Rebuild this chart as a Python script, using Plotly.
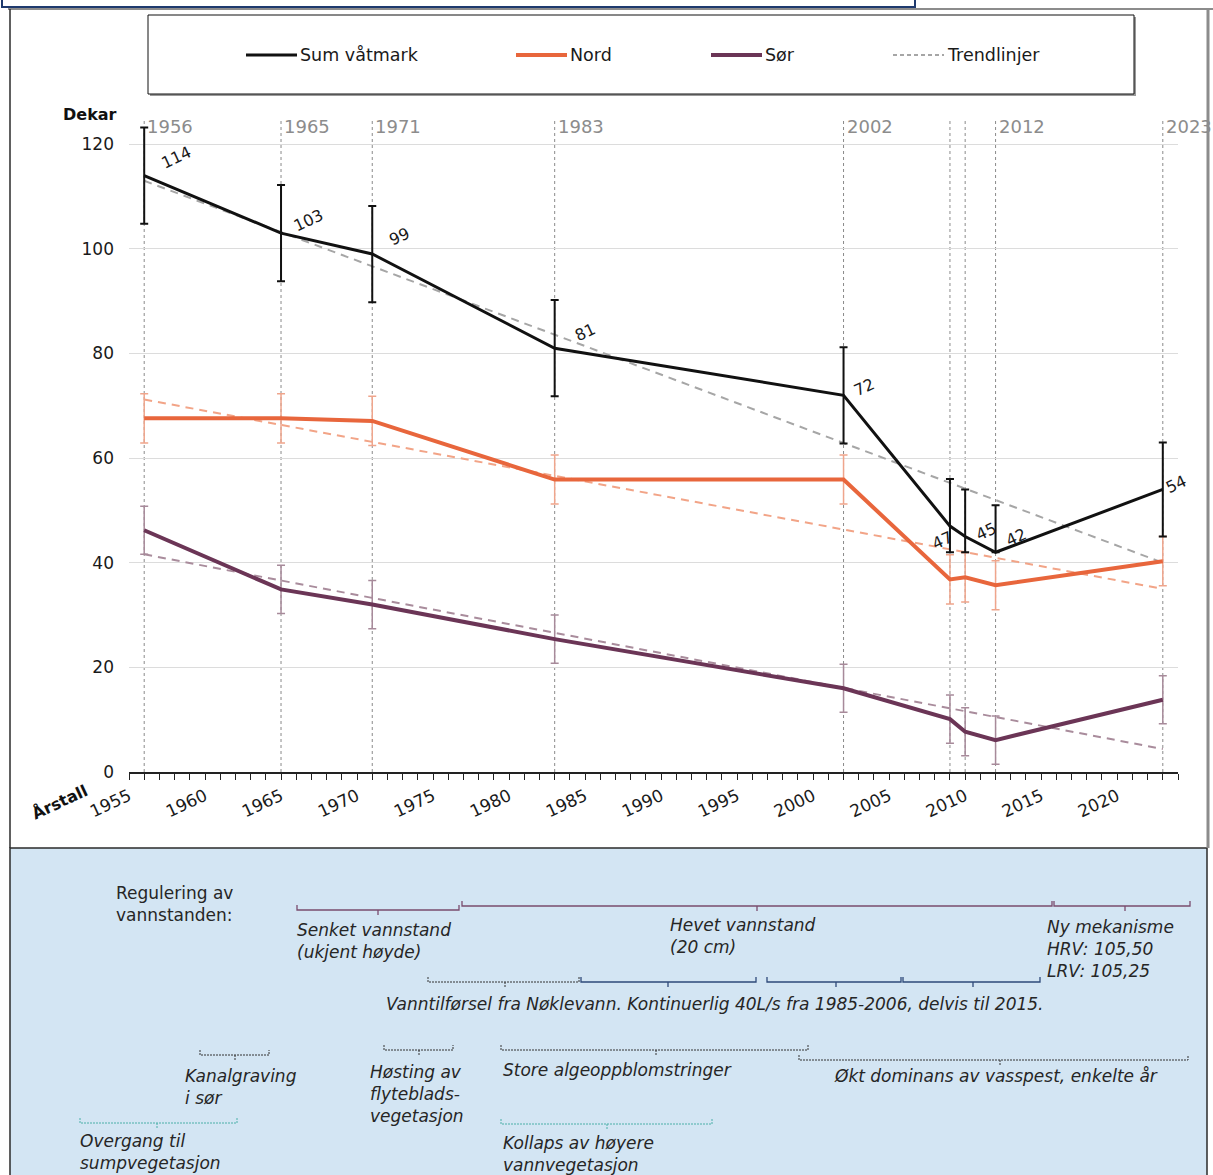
import plotly.graph_objects as go

# ---- data -------------------------------------------------------------
years = [1956, 1965, 1971, 1983, 2002, 2009, 2010, 2012, 2023]
sum_vatmark = [114, 103, 99, 81, 72, 47, 45, 42, 54]
sum_err_plus = [9.2, 9.2, 9.2, 9.2, 9.2, 9.0, 9.0, 9.0, 9.0]
sum_err_minus = [9.2, 9.2, 9.2, 9.2, 9.2, 5.0, 3.0, 0.0, 9.0]
nord = [67.6, 67.6, 67.1, 55.9, 55.9, 36.8, 37.2, 35.7, 40.3]
nord_err = [4.7, 4.7, 4.7, 4.7, 4.7, 4.7, 4.7, 4.7, 4.7]
sor = [46.2, 34.9, 32.0, 25.4, 16.0, 10.1, 7.7, 6.1, 13.8]
sor_err = [4.6, 4.6, 4.6, 4.6, 4.6, 4.6, 4.6, 4.6, 4.6]

trend_years = [1956, 2023]
trend_sum = [113.0, 40.0]
trend_nord = [71.2, 35.0]
trend_sor = [41.6, 4.4]

top_year_labels = [1956, 1965, 1971, 1983, 2002, 2012, 2023]

# ---- styling ----------------------------------------------------------
W, H = 1213, 1175
ML, MR, MT, MB = 129, 35, 118, 403
PW, PH = W - ML - MR, H - MT - MB

BLACK = "#111111"
NORD_C = "#E8663C"
SOR_C = "#6B3556"
FONT = "DejaVu Sans"


def px(x):
    return (x - ML) / PW


def py(y):
    return (H - MB - y) / PH


fig = go.Figure()

# trend lines
for ty, col in [(trend_sum, "#A6A6A6"), (trend_nord, "#F2A487"), (trend_sor, "#A98C9C")]:
    fig.add_trace(go.Scatter(x=trend_years, y=ty, mode="lines",
                             line=dict(color=col, width=2, dash="8px,6px"),
                             hoverinfo="skip", showlegend=False))

fig.add_trace(go.Scatter(
    x=years, y=sor, mode="lines", name="Sør",
    line=dict(color=SOR_C, width=4),
    error_y=dict(type="data", array=sor_err, color="#A78A9A", thickness=1.5, width=4),
    showlegend=False))
fig.add_trace(go.Scatter(
    x=years, y=nord, mode="lines", name="Nord",
    line=dict(color=NORD_C, width=4),
    error_y=dict(type="data", array=nord_err, color="#EFA58C", thickness=1.5, width=4),
    showlegend=False))
fig.add_trace(go.Scatter(
    x=years, y=sum_vatmark, mode="lines", name="Sum våtmark",
    line=dict(color=BLACK, width=3),
    error_y=dict(type="data", symmetric=False, array=sum_err_plus, arrayminus=sum_err_minus,
                 color=BLACK, thickness=2, width=4),
    showlegend=False))

shapes = []
annotations = []

# vertical survey-year guides
for yr in years:
    shapes.append(dict(type="line", xref="x", yref="y", x0=yr, x1=yr, y0=0, y1=125,
                       line=dict(color="#8A8A8A", width=1, dash="3px,3px"), layer="below"))
for yr in top_year_labels:
    annotations.append(dict(x=yr, y=123.4, xref="x", yref="y", text=str(yr),
                            showarrow=False, xanchor="left", yanchor="middle", xshift=1,
                            font=dict(family=FONT, size=18, color="#8C8C8C")))

# value labels on the total series
label_offsets = [(32, 18), (27, 13), (27, 18), (30, 16), (20, 8), (-8, -14), (21, 5), (20, 15), (13, 5)]
for yr, v, (dx, dy) in zip(years, sum_vatmark, label_offsets):
    annotations.append(dict(x=yr, y=v, xref="x", yref="y", text=str(v), showarrow=False,
                            xanchor="center", yanchor="middle",
                            xshift=dx, yshift=dy, textangle=-25,
                            font=dict(family=FONT, size=16, color="#1A1A1A")))

# axis titles
annotations.append(dict(x=px(90), y=py(115), xref="paper", yref="paper", text="<b>Dekar</b>",
                        showarrow=False, xanchor="center", yanchor="middle",
                        font=dict(family=FONT, size=16, color="#111")))
annotations.append(dict(x=px(59), y=py(802), xref="paper", yref="paper", text="<b>Årstall</b>",
                        showarrow=False, xanchor="center", yanchor="middle", textangle=-25,
                        font=dict(family=FONT, size=16, color="#111")))

# ---- outer frames -----------------------------------------------------
shapes.append(dict(type="rect", xref="paper", yref="paper", x0=px(2), x1=px(915), y0=py(-6), y1=py(7),
                   line=dict(color="#1F3A6E", width=2), fillcolor="white", layer="below"))
shapes.append(dict(type="line", xref="paper", yref="paper", x0=px(8), x1=px(1213), y0=py(9), y1=py(9),
                   line=dict(color="#8C8C8C", width=2)))
shapes.append(dict(type="line", xref="paper", yref="paper", x0=px(1208), x1=px(1208), y0=py(9), y1=py(848),
                   line=dict(color="#8C8C8C", width=3)))
shapes.append(dict(type="rect", xref="paper", yref="paper", x0=px(10), x1=px(1207), y0=py(848), y1=py(1180),
                   line=dict(color="#2B2B2B", width=1.5), fillcolor="#D3E5F3", layer="below"))
shapes.append(dict(type="line", xref="paper", yref="paper", x0=px(10), x1=px(10), y0=py(9), y1=py(848),
                   line=dict(color="#2B2B2B", width=1.5)))

# ---- legend box ------------------------------------------------------
shapes.append(dict(type="rect", xref="paper", yref="paper", x0=px(150), x1=px(1136), y0=py(17), y1=py(96),
                   line=dict(width=0), fillcolor="#9A9A9A", layer="below"))
shapes.append(dict(type="rect", xref="paper", yref="paper", x0=px(148), x1=px(1134), y0=py(15), y1=py(94),
                   line=dict(color="#111", width=1), fillcolor="white", layer="below"))
legend_items = [
    ("Sum våtmark", BLACK, 3, "solid", 246),
    ("Nord", NORD_C, 4, "solid", 516),
    ("Sør", SOR_C, 4, "solid", 711),
    ("Trendlinjer", "#A6A6A6", 2, "4px,3px", 893),
]
for name, col, lw, dash, x0 in legend_items:
    shapes.append(dict(type="line", xref="paper", yref="paper", x0=px(x0), x1=px(x0 + 51),
                       y0=py(55), y1=py(55), line=dict(color=col, width=lw, dash=dash)))
    annotations.append(dict(x=px(x0 + 52), y=py(55), xref="paper", yref="paper", text=name,
                            showarrow=False, xanchor="left", yanchor="middle",
                            font=dict(family=FONT, size=17.5, color="#1A1A1A")))

# ---- timeline panel -----------------------------------------------------
REG = "#7A4C6E"
NAVY = "#2E4A7A"
DOT = "#333333"
TEAL = "#4AAFA8"


def bracket(x0, x1, y, xc, color, dash="solid", width=1.3):
    path = (f"M {px(x0)},{py(y - 5)} L {px(x0)},{py(y)} L {px(x1)},{py(y)} L {px(x1)},{py(y - 5)} "
            f"M {px(xc)},{py(y)} L {px(xc)},{py(y + 5)}")
    shapes.append(dict(type="path", xref="paper", yref="paper", path=path,
                       line=dict(color=color, width=width, dash=dash)))


def note(x, y, text, italic=True, size=17):
    t = f"<i>{text}</i>" if italic else text
    annotations.append(dict(x=px(x), y=py(y), xref="paper", yref="paper", text=t, showarrow=False,
                            xanchor="left", yanchor="top", align="left",
                            font=dict(family=FONT, size=size, color="#262626")))


note(114, 881, "Regulering av<br>vannstanden:", italic=False)

bracket(297, 459, 910, 378, REG)
note(295, 918, "Senket vannstand<br>(ukjent høyde)")
bracket(462, 1052, 906, 757, REG)
note(668, 913, "Hevet vannstand<br>(20 cm)")
bracket(1054, 1190, 906, 1125, REG)
note(1045, 915, "Ny mekanisme<br>HRV: 105,50<br>LRV: 105,25")

bracket(428, 579, 982, 505, DOT, dash="2px,1px", width=1)
bracket(581, 756, 982, 668, NAVY)
bracket(767, 901, 982, 836, NAVY)
bracket(903, 1040, 982, 973, NAVY)
note(384, 992, "Vanntilførsel fra Nøklevann. Kontinuerlig 40L/s fra 1985-2006, delvis til 2015.")

bracket(200, 269, 1055, 235, DOT, dash="2px,1px", width=1)
note(183, 1064, "Kanalgraving<br>i sør")
bracket(384, 453, 1050, 419, DOT, dash="2px,1px", width=1)
note(368, 1060, "Høsting av<br>flyteblads-<br>vegetasjon")
bracket(501, 808, 1050, 656, DOT, dash="2px,1px", width=1)
note(501, 1058, "Store algeoppblomstringer")
bracket(799, 1188, 1060, 1000, DOT, dash="2px,1px", width=1)
note(832, 1064, "Økt dominans av vasspest, enkelte år")
bracket(80, 237, 1123, 157, TEAL, dash="2px,1px", width=1)
note(78, 1129, "Overgang til<br>sumpvegetasjon")
bracket(501, 712, 1124, 607, TEAL, dash="2px,1px", width=1)
note(501, 1131, "Kollaps av høyere<br>vannvegetasjon")

fig.update_layout(
    width=W, height=H,
    margin=dict(l=ML, r=MR, t=MT, b=MB),
    paper_bgcolor="white", plot_bgcolor="white",
    showlegend=False,
    shapes=shapes, annotations=annotations,
    font=dict(family=FONT, size=16, color="#1A1A1A"),
    xaxis=dict(range=[1955, 2024], dtick=5, tick0=1955, tickangle=-25,
               showgrid=False, zeroline=False,
               showline=True, linecolor="#222", linewidth=1.5,
               ticks="outside", ticklen=6, tickcolor="#222", tickwidth=1,
               minor=dict(dtick=1, ticks="outside", ticklen=6, tickcolor="#222", showgrid=False),
               tickfont=dict(family=FONT, size=17, color="#1A1A1A")),
    yaxis=dict(range=[0, 125], dtick=20, tick0=0, showgrid=True, gridcolor="#DCDCDC", gridwidth=1,
               zeroline=False, showline=False, ticks="", ticklabelstandoff=14,
               tickfont=dict(family=FONT, size=17, color="#1A1A1A")),
)

fig.write_html("out.html")
